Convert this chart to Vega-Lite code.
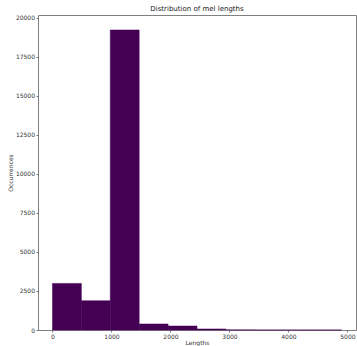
{
  "$schema": "https://vega.github.io/schema/vega-lite/v6.json",
  "width": 318,
  "height": 315,
  "autosize": {"type": "none"},
  "padding": {"left": 38, "top": 15, "right": 1, "bottom": 16},
  "background": "white",
  "title": {"text": "Distribution of mel lengths", "fontSize": 7, "font": "DejaVu Sans", "fontWeight": "normal", "color": "#222", "anchor": "middle", "offset": 3},
  "data": {"values": [
    {"start": 0, "end": 490, "count": 2987},
    {"start": 490, "end": 980, "count": 1878},
    {"start": 980, "end": 1470, "count": 19230},
    {"start": 1470, "end": 1960, "count": 385},
    {"start": 1960, "end": 2450, "count": 256},
    {"start": 2450, "end": 2940, "count": 65},
    {"start": 2940, "end": 3430, "count": 8},
    {"start": 3430, "end": 3920, "count": 2},
    {"start": 3920, "end": 4410, "count": 1},
    {"start": 4410, "end": 4900, "count": 1}
  ]},
  "mark": {"type": "rect", "color": "#440154", "stroke": "#440154", "strokeWidth": 0.5},
  "encoding": {
    "x": {"field": "start", "type": "quantitative",
      "scale": {"domain": [-245, 5145], "nice": false, "zero": false},
      "axis": {"title": "Lengths", "format": "d", "values": [0, 1000, 2000, 3000, 4000, 5000], "titleY": 9, "titleBaseline": "top"}},
    "x2": {"field": "end"},
    "y": {"field": "count", "type": "quantitative",
      "scale": {"domain": [0, 20190], "nice": false},
      "axis": {"title": "Occurrences", "format": "d", "values": [0, 2500, 5000, 7500, 10000, 12500, 15000, 17500, 20000], "titleX": -28, "titleY": 157.5, "titleAngle": -90, "titleAlign": "center", "titleBaseline": "middle"}},
    "y2": {"datum": 0}
  },
  "config": {
    "view": {"stroke": "#808080", "strokeWidth": 1},
    "axis": {
      "grid": false, "domain": false, "ticks": true, "tickSize": 2, "tickColor": "#555", "tickWidth": 0.8,
      "labelFont": "DejaVu Sans", "labelFontSize": 6, "labelColor": "#333", "labelPadding": 1.5,
      "titleFont": "DejaVu Sans", "titleFontSize": 6, "titleFontWeight": "normal", "titleColor": "#333",
      "labelFlush": false, "labelOverlap": false
    }
  }
}
